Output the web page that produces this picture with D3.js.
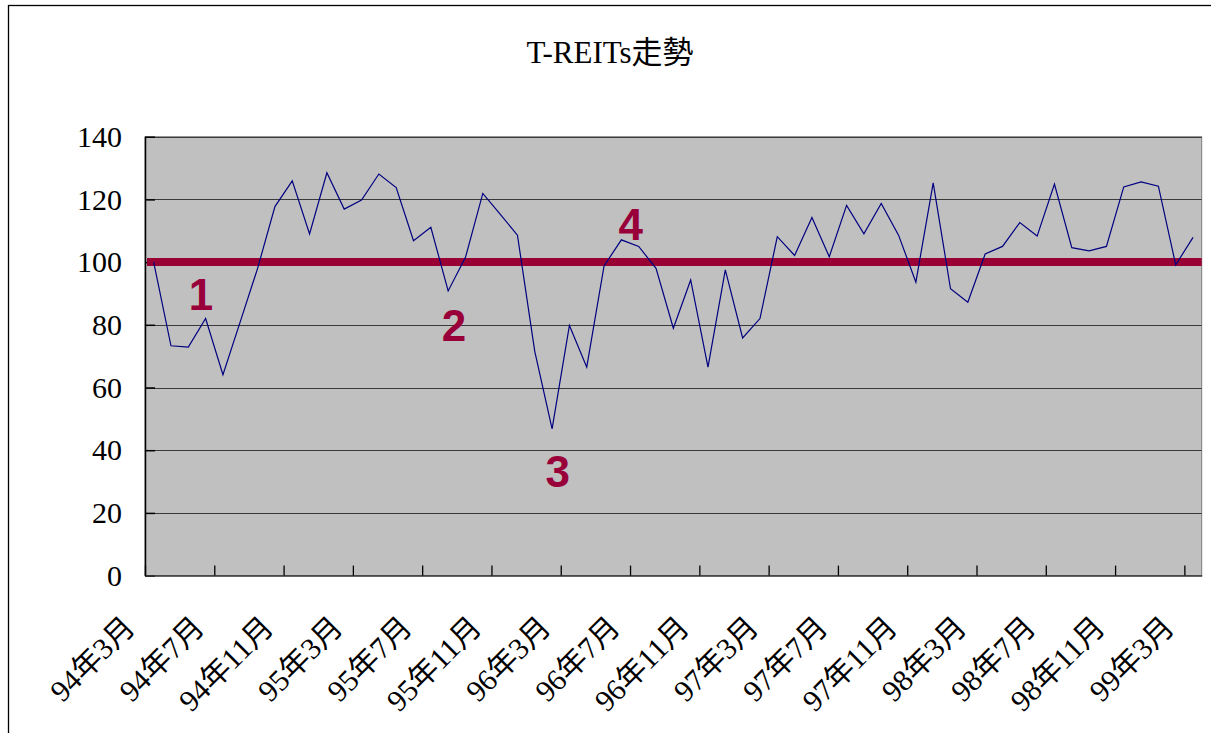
<html>
<head>
<meta charset="utf-8">
<script src="https://d3js.org/d3.v7.min.js"></script>
<style type="text/css">
  body { margin: 0; background: #fff; }
  text { font-family: "Liberation Serif", "Noto Sans CJK TC", serif; }
</style>
</head>
<body>
<div id="viz"></div>
<script type="text/javascript">
// monthly index, 94年3月 .. 99年3月
var months = [
  "94年3月","94年4月","94年5月","94年6月","94年7月","94年8月","94年9月","94年10月","94年11月","94年12月",
  "95年1月","95年2月","95年3月","95年4月","95年5月","95年6月","95年7月","95年8月","95年9月","95年10月","95年11月","95年12月",
  "96年1月","96年2月","96年3月","96年4月","96年5月","96年6月","96年7月","96年8月","96年9月","96年10月","96年11月","96年12月",
  "97年1月","97年2月","97年3月","97年4月","97年5月","97年6月","97年7月","97年8月","97年9月","97年10月","97年11月","97年12月",
  "98年1月","98年2月","98年3月","98年4月","98年5月","98年6月","98年7月","98年8月","98年9月","98年10月","98年11月","98年12月",
  "99年1月","99年2月","99年3月"
];
var values = [
  100.0, 73.3, 72.9, 82.0, 64.1, 81.0, 98.0, 117.7, 125.9, 109.0,
  128.5, 116.9, 119.8, 128.1, 123.8, 106.8, 111.1, 90.8, 101.5, 121.9,
  115.3, 108.6, 71.5, 46.8, 79.8, 66.5, 98.8, 107.1, 105.0, 98.0,
  78.9, 94.3, 66.5, 97.5, 75.8, 82.0, 108.1, 102.1, 114.2, 101.7,
  118.1, 109.0, 118.7, 108.6, 93.6, 125.3, 91.5, 87.2, 102.6, 105.0,
  112.6, 108.3, 124.9, 104.6, 103.6, 105.0, 124.0, 125.6, 124.2, 99.1,
  107.9
];
var tickLabels = ["94年3月","94年7月","94年11月","95年3月","95年7月","95年11月","96年3月","96年7月",
  "96年11月","97年3月","97年7月","97年11月","98年3月","98年7月","98年11月","99年3月"];
var yTicks = [0, 20, 40, 60, 80, 100, 120, 140];
var baseLevel = 100;
// phase markers: label, month position, value
var markLabels = ["1", "2", "3", "4"];
var markPos = [2.73, 17.33, 23.33, 27.54];
var markVal = [84.7, 74.9, 28.3, 107.0];

var width = 1211, height = 733;
var plotL = 145, plotR = 1201.7, plotT = 136.7, plotB = 575.6;
var svg = d3.select("#viz").append("svg").attr("width", width).attr("height", height);

// chart area frame
svg.append("rect").attr("x", 8.5).attr("y", 5.5).attr("width", 1300).attr("height", 800)
  .attr("fill", "#fff").attr("stroke", "#000").attr("stroke-width", 1.3);

var x = d3.scaleLinear().domain([-0.5, months.length - 0.5]).range([plotL, plotR]);
var y = d3.scaleLinear().domain([0, 140]).range([plotB, plotT]);

svg.append("text").attr("x", 610).attr("y", 63).attr("text-anchor", "middle")
  .style("font-size", "31px").attr("fill", "#000").text("T-REITs走勢");

svg.append("rect").attr("x", plotL).attr("y", plotT).attr("width", plotR - plotL).attr("height", plotB - plotT)
  .attr("fill", "#c0c0c0").attr("stroke", "#7f7f7f").attr("stroke-width", 1);

svg.append("g").selectAll("line").data(yTicks.slice(1)).join("line")
  .attr("x1", plotL).attr("x2", plotR)
  .attr("y1", function(d) { return Math.round(y(d)) + 0.5; })
  .attr("y2", function(d) { return Math.round(y(d)) + 0.5; })
  .attr("stroke", "#3a3a3a").attr("stroke-width", 1);

var yAxis = svg.append("g").attr("transform", "translate(" + plotL + ",0)")
  .call(d3.axisLeft(y).tickValues(yTicks).tickSizeInner(-10).tickSizeOuter(0).tickPadding(23));
yAxis.select(".domain").attr("stroke", "#000").attr("stroke-width", 1.5);
yAxis.selectAll(".tick line").attr("stroke", "#000").attr("stroke-width", 1.5);
yAxis.selectAll("text").style("font-size", "30px").style("font-family", "Liberation Serif").attr("fill", "#000");

var boundaries = tickLabels.map(function(d, i) { return i * 4 - 0.5; });
var xAxis = svg.append("g").attr("transform", "translate(0," + plotB + ")")
  .call(d3.axisBottom(x).tickValues(boundaries).tickSizeInner(-10).tickSizeOuter(0).tickFormat(""));
xAxis.select(".domain").attr("stroke", "#333").attr("stroke-width", 1.5);
xAxis.selectAll(".tick line").attr("stroke", "#000").attr("stroke-width", 1.3);

svg.append("g").selectAll("text").data(tickLabels).join("text")
  .attr("transform", function(d, i) {
    return "translate(" + (x(i * 4) - 17) + ",629) rotate(-45)";
  })
  .attr("text-anchor", "end").style("font-size", "30px").attr("fill", "#000")
  .text(function(d) { return d; });

svg.append("line").attr("x1", plotL + 2).attr("x2", plotR)
  .attr("y1", y(baseLevel)).attr("y2", y(baseLevel))
  .attr("stroke", "#990033").attr("stroke-width", 8);

var line = d3.line().x(function(d, i) { return x(i); }).y(function(d) { return y(d); });
svg.append("path").datum(values).attr("d", line)
  .attr("fill", "none").attr("stroke", "#000080").attr("stroke-width", 1.2);

svg.append("g").selectAll("text").data(markLabels).join("text")
  .attr("x", function(d, i) { return x(markPos[i]); })
  .attr("y", function(d, i) { return y(markVal[i]); })
  .attr("text-anchor", "middle")
  .style("font-family", "Liberation Sans, Arial, sans-serif").style("font-weight", "bold")
  .style("font-size", "44px").attr("fill", "#99003a")
  .text(function(d) { return d; });
</script>
</body>
</html>
